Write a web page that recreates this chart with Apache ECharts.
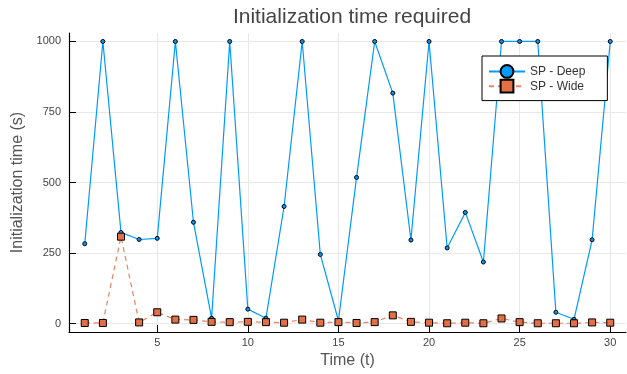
<!DOCTYPE html>
<html>
<head>
<meta charset="utf-8">
<script src="https://cdn.jsdelivr.net/npm/echarts@6/dist/echarts.min.js"></script>
<style>
  html, body { margin: 0; padding: 0; background: #fff; }
  #chart { width: 627px; height: 374px; }
</style>
</head>
<body>
<div id="chart"></div>
<script>
// values
const timeSteps = [1, 2, 3, 4, 5, 6, 7, 8, 9, 10, 11, 12, 13, 14, 15, 16, 17, 18, 19, 20, 21, 22, 23, 24, 25, 26, 27, 28, 29, 30]
const spDeep = [283, 1000, 323, 298, 302, 1000, 359, 19, 1000, 51, 19, 415, 1000, 245, 10, 518, 1000, 817, 296, 1000, 268, 394, 218, 1000, 1000, 1000, 40, 15, 297, 1000]
const spWide = [2, 2, 308, 4, 40, 14, 13, 6, 5, 6, 5, 3, 14, 3, 5, 2, 5, 29, 6, 3, 1, 3, 1, 18, 5, 1, 1, 1, 4, 3]
const xTicks = [5, 10, 15, 20, 25, 30]
const yTicks = [0, 250, 500, 750, 1000]

const font = 'Liberation Sans'
const chart = echarts.init(document.getElementById('chart'))

const axisCommon = {
  axisLine: { show: true, onZero: false, lineStyle: { color: '#000', width: 1.2 } },
  axisTick: { show: true, inside: true, length: 7, lineStyle: { color: '#000', width: 1 } },
  splitLine: { show: true, lineStyle: { color: '#e8e8e8', width: 1 } },
  nameTextStyle: { fontFamily: font, fontSize: 16, color: '#555' }
}

chart.setOption({
  animation: false,
  backgroundColor: '#fff',
  title: {
    text: 'Initialization time required',
    left: 347,
    textAlign: 'center',
    top: 2,
    textStyle: { fontFamily: font, fontSize: 21, fontWeight: 'normal', color: '#444' }
  },
  legend: {
    orient: 'vertical',
    left: 482,
    top: 56,
    padding: [8, 22, 7, 6],
    itemGap: 0,
    itemWidth: 36,
    itemHeight: 16,
    borderColor: '#000',
    borderWidth: 1,
    borderRadius: 0,
    backgroundColor: '#fff',
    textStyle: { fontFamily: font, fontSize: 12, color: '#333' },
    data: ['SP - Deep', 'SP - Wide']
  },
  grid: { left: 69, right: 1, top: 33, bottom: 42, containLabel: false, outerBoundsMode: 'none' },
  xAxis: Object.assign({}, axisCommon, {
    type: 'value',
    min: 0.13,
    max: 30.87,
    name: 'Time (t)',
    nameLocation: 'middle',
    nameGap: 21,
    axisTick: Object.assign({}, axisCommon.axisTick, { customValues: xTicks }),
    axisLabel: { customValues: xTicks, fontFamily: font, fontSize: 11, color: '#444', margin: 5 }
  }),
  yAxis: Object.assign({}, axisCommon, {
    type: 'value',
    min: -30,
    max: 1030,
    name: 'Initialization time (s)',
    nameLocation: 'middle',
    nameGap: 40,
    axisTick: Object.assign({}, axisCommon.axisTick, { customValues: yTicks }),
    axisLabel: {
      customValues: yTicks,
      formatter: v => String(v),
      fontFamily: font, fontSize: 11, color: '#444', margin: 8
    }
  }),
  series: [
    {
      name: 'SP - Deep',
      type: 'line',
      data: timeSteps.map((t, i) => [t, spDeep[i]]),
      symbol: 'circle',
      symbolSize: 4,
      showAllSymbol: true,
      lineStyle: { color: '#009AFA', width: 1.2 },
      itemStyle: { color: '#009AFA', borderColor: '#000', borderWidth: 1 }
    },
    {
      name: 'SP - Wide',
      type: 'line',
      data: timeSteps.map((t, i) => [t, spWide[i]]),
      symbol: 'rect',
      symbolSize: 7,
      showAllSymbol: true,
      lineStyle: { color: '#E36F47', width: 1.2, type: [5, 4], opacity: 0.85 },
      itemStyle: { color: '#E36F47', borderColor: '#000', borderWidth: 1 }
    }
  ]
})
</script>
</body>
</html>
